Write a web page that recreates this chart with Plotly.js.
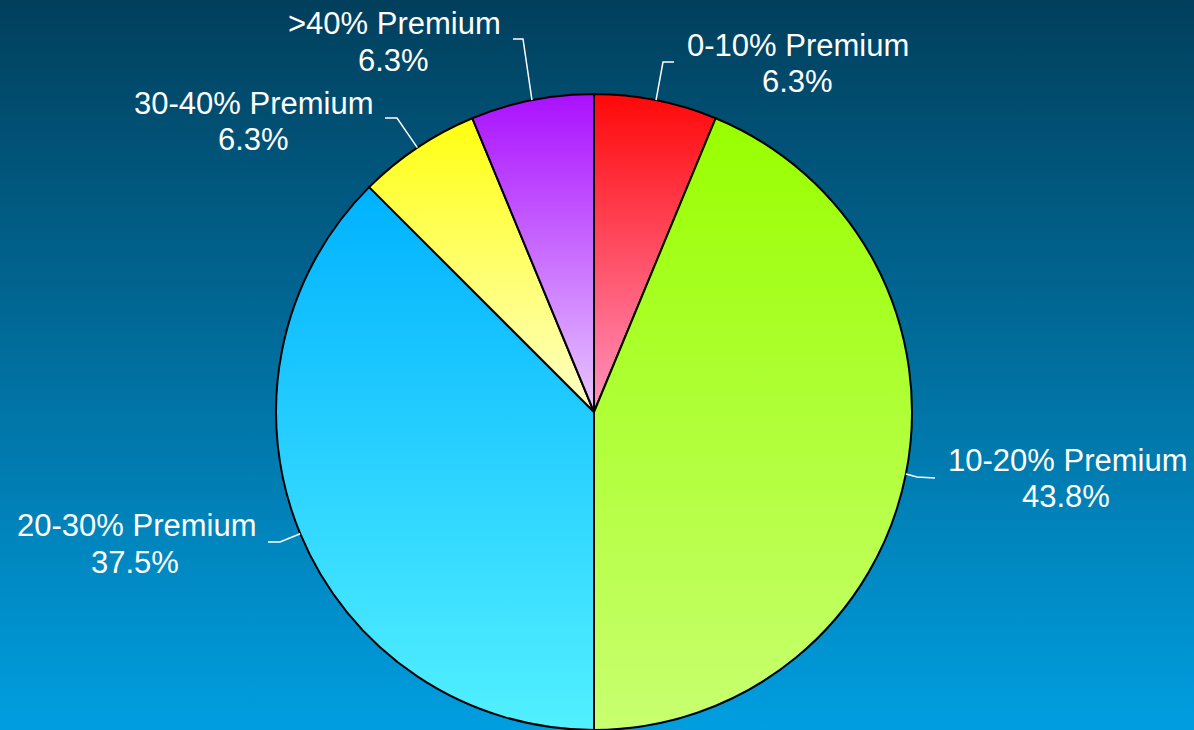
<!DOCTYPE html>
<html>
<head>
<meta charset="utf-8">
<script src="https://cdn.plot.ly/plotly-3.0.1.min.js"></script>
<style>
  html, body { margin: 0; padding: 0; width: 1194px; height: 730px; overflow: hidden; }
  body { background: linear-gradient(to bottom, #013f5c 0%, #009ee0 100%); }
  #chart { width: 1194px; height: 730px; }
</style>
</head>
<body>
<div id="chart"></div>
<script>
// ---- data ----
const categories = ["0-10% Premium", "10-20% Premium", "20-30% Premium", "30-40% Premium", ">40% Premium"];
const counts = [1, 7, 6, 1, 1];

// ---- styles ----
const topColors    = ["#ff0808", "#99ff00", "#00b2ff", "#ffff10", "#aa10ff"];
const bottomColors = ["#ff94c0", "#c8ff70", "#52f0ff", "#ffffc8", "#e8c8ff"];

const W = 1194, H = 730;
const R = 318, CX = 594, CY = H - R;

// label / leader placement (pixels), per slice
const labelPos = [
  {name: [798, 45], pct: [797, 81], elbow: [663, 62], end: [674, 62]},
  {name: [1067, 460], pct: [1066, 496], elbow: [917, 477], end: [935, 478]},
  {name: [136, 525], pct: [135, 562], elbow: [280, 542], end: [268, 542]},
  {name: [254, 103], pct: [254, 139], elbow: [397, 118], end: [385, 118]},
  {name: [394, 24], pct: [393, 60], elbow: [523, 39], end: [513, 39]}
];

const px = x => x / W;
const py = y => 1 - y / H;

const total = counts.reduce((a, b) => a + b, 0);
const pctText = counts.map(v => (100 * v / total).toFixed(1) + "%");

const annotations = [];
const shapes = [];
let cum = 0;
counts.forEach((v, i) => {
  const mid = (cum + v / 2) / total * 2 * Math.PI;
  cum += v;
  const sx = CX + R * Math.sin(mid);
  const sy = CY - R * Math.cos(mid);
  const L = labelPos[i];
  shapes.push({
    type: "path", xref: "paper", yref: "paper",
    path: `M ${px(sx)} ${py(sy)} L ${px(L.elbow[0])} ${py(L.elbow[1])} L ${px(L.end[0])} ${py(L.end[1])}`,
    line: {color: "white", width: 1.5}
  });
  const font = {family: "Liberation Sans, Arial, sans-serif", size: 31, color: "white"};
  annotations.push({
    text: categories[i], x: px(L.name[0]), y: py(L.name[1]), xref: "paper", yref: "paper",
    xanchor: "center", yanchor: "middle", showarrow: false, font: font
  });
  annotations.push({
    text: pctText[i], x: px(L.pct[0]), y: py(L.pct[1]), xref: "paper", yref: "paper",
    xanchor: "center", yanchor: "middle", showarrow: false, font: font
  });
});

const trace = {
  type: "pie",
  labels: categories,
  values: counts,
  sort: false,
  direction: "clockwise",
  rotation: 0,
  textinfo: "none",
  hoverinfo: "none",
  showlegend: false,
  marker: {colors: topColors, line: {color: "#000000", width: 2}},
  domain: {x: [px(CX - R), px(CX + R)], y: [0, (2 * R) / H]}
};

const layout = {
  width: W, height: H,
  margin: {l: 0, r: 0, t: 0, b: 0},
  paper_bgcolor: "rgba(0,0,0,0)",
  plot_bgcolor: "rgba(0,0,0,0)",
  showlegend: false,
  annotations: annotations,
  shapes: shapes
};

Plotly.newPlot("chart", [trace], layout, {staticPlot: true, displayModeBar: false}).then(gd => {
  const svg = gd.querySelector("svg.main-svg");
  const NS = "http://www.w3.org/2000/svg";
  let defs = svg.querySelector("defs");
  if (!defs) { defs = document.createElementNS(NS, "defs"); svg.insertBefore(defs, svg.firstChild); }
  const paths = gd.querySelectorAll("g.slice path.surface");
  paths.forEach((p, i) => {
    const g = document.createElementNS(NS, "linearGradient");
    g.setAttribute("id", "sliceGrad" + i);
    g.setAttribute("x1", "0"); g.setAttribute("y1", "0");
    g.setAttribute("x2", "0"); g.setAttribute("y2", "1");
    const s1 = document.createElementNS(NS, "stop");
    s1.setAttribute("offset", "0"); s1.setAttribute("stop-color", topColors[i]);
    const s2 = document.createElementNS(NS, "stop");
    s2.setAttribute("offset", "1"); s2.setAttribute("stop-color", bottomColors[i]);
    g.appendChild(s1); g.appendChild(s2);
    defs.appendChild(g);
    p.style.setProperty("fill", "url(#sliceGrad" + i + ")");
  });
});
</script>
</body>
</html>
